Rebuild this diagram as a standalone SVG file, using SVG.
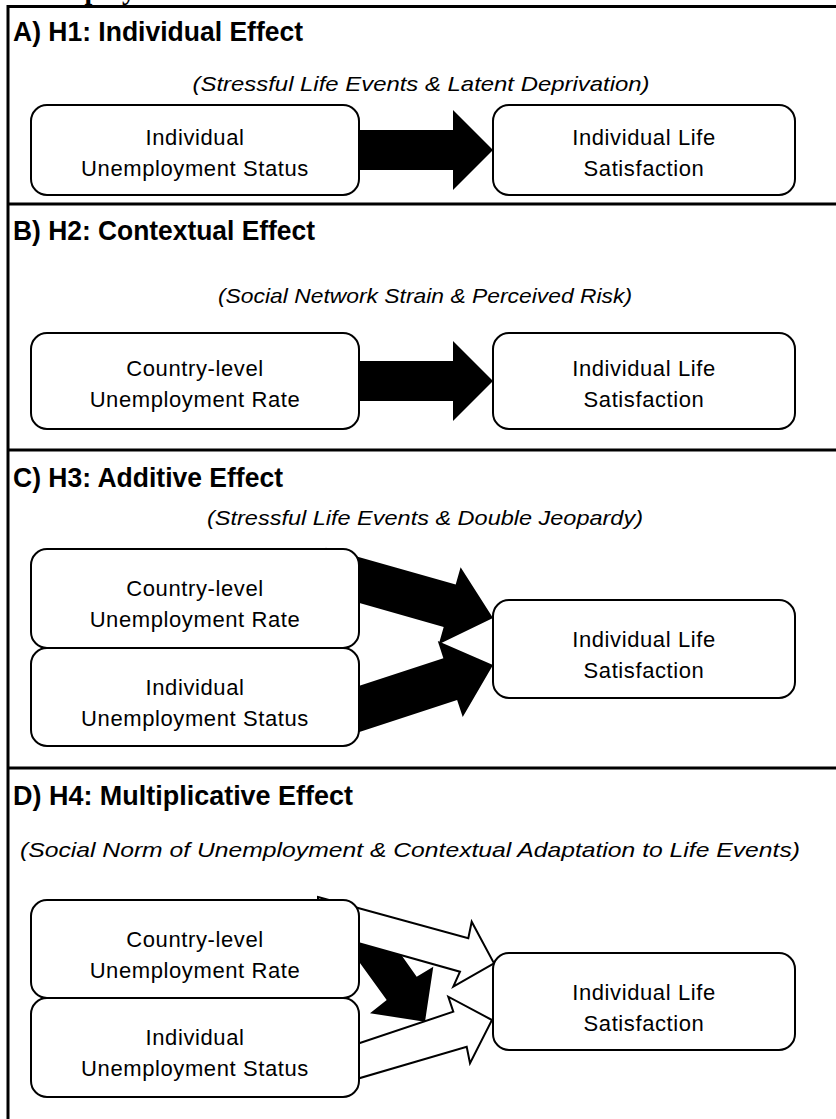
<svg xmlns="http://www.w3.org/2000/svg" width="836" height="1119" viewBox="0 0 836 1119">
<style>
.frame{stroke:#000;stroke-width:3;fill:none}
.box{fill:#fff;stroke:#000;stroke-width:2}
.head{font-family:"Liberation Sans",Arial,sans-serif;font-weight:bold;font-size:28px}
.sub{font-family:"Liberation Sans",Arial,sans-serif;font-style:italic;font-size:21px;text-anchor:middle}
.lbl{font-family:"Liberation Sans",Arial,sans-serif;font-size:22px;letter-spacing:0.6px;text-anchor:middle}
.blk{fill:#000}
.wht{fill:#fff;stroke:#000;stroke-width:2;stroke-linejoin:miter}
.cut{font-family:"Liberation Serif","Times New Roman",serif;font-weight:bold;font-size:28px}
</style>
<rect width="836" height="1119" fill="#fff"/>
<text class="cut" x="13" y="-1">Unemployment</text>
<g id="frame">
<path class="frame" d="M8,1119 V6.5 H836"/>
<path class="frame" d="M8,204 H836 M8,450 H836 M8,768 H836"/>
</g>
<g id="headings">
<text class="head" x="13" y="41" textLength="290" lengthAdjust="spacingAndGlyphs">A)  H1: Individual Effect</text>
<text class="sub" x="421" y="91" textLength="457" lengthAdjust="spacingAndGlyphs">(Stressful Life Events &amp; Latent Deprivation)</text>
<text class="head" x="13" y="240" textLength="302" lengthAdjust="spacingAndGlyphs">B)  H2: Contextual Effect</text>
<text class="sub" x="425" y="303" textLength="414" lengthAdjust="spacingAndGlyphs">(Social Network Strain &amp; Perceived Risk)</text>
<text class="head" x="13" y="487" textLength="270" lengthAdjust="spacingAndGlyphs">C)  H3: Additive Effect</text>
<text class="sub" x="425" y="525" textLength="436" lengthAdjust="spacingAndGlyphs">(Stressful Life Events &amp; Double Jeopardy)</text>
<text class="head" x="13" y="805" textLength="340" lengthAdjust="spacingAndGlyphs">D)  H4: Multiplicative Effect</text>
<text class="sub" x="410" y="857" textLength="780" lengthAdjust="spacingAndGlyphs">(Social Norm of Unemployment &amp; Contextual Adaptation to Life Events)</text>
</g>
<g id="connectors">
<polygon class="blk" points="350,130 453,130 453,110 493,150 453,190 453,170 350,170"/>
<polygon class="blk" points="350,361 453,361 453,341 493,381 453,421 453,401 350,401"/>
<polygon class="blk" transform="translate(493,618) rotate(15.83)" points="-180,-22 -45,-22 -45,-40 0,0 -45,40 -45,22 -180,22"/>
<polygon class="blk" transform="translate(493,665) rotate(-18.18)" points="-180,-22 -45,-22 -45,-40 0,0 -45,40 -45,22 -180,22"/>
<polygon class="blk" points="350,940.8 401,954.6 416.7,976.7 433.3,966.7 425,1021.7 370,1013.3 386.7,1000 350,949.3"/>
<polygon class="wht" points="318,897 468.3,938.3 471.7,921.7 494,963.3 453.3,986.7 460,971.7 318,931.8"/>
<polygon class="wht" points="330,1053 453.3,1011.7 448.3,996.7 492,1020 470,1063.3 466.7,1046.7 330,1086.8"/>
</g>
<g id="a-left"><rect class="box" x="31" y="105" width="328" height="90" rx="16"/>
<text class="lbl" x="195" y="145">Individual</text><text class="lbl" x="195" y="176">Unemployment  Status</text></g>
<g id="a-right"><rect class="box" x="493" y="105" width="302" height="90" rx="16"/>
<text class="lbl" x="644" y="145">Individual Life</text><text class="lbl" x="644" y="176">Satisfaction</text></g>
<g id="b-left"><rect class="box" x="31" y="333" width="328" height="96" rx="16"/>
<text class="lbl" x="195" y="376">Country-level</text><text class="lbl" x="195" y="407">Unemployment Rate</text></g>
<g id="b-right"><rect class="box" x="493" y="333" width="302" height="96" rx="16"/>
<text class="lbl" x="644" y="376">Individual Life</text><text class="lbl" x="644" y="407">Satisfaction</text></g>
<g id="c-country"><rect class="box" x="31" y="549" width="328" height="99" rx="16"/>
<text class="lbl" x="195" y="596">Country-level</text><text class="lbl" x="195" y="627">Unemployment Rate</text></g>
<g id="c-individual"><rect class="box" x="31" y="648" width="328" height="98" rx="16"/>
<text class="lbl" x="195" y="695">Individual</text><text class="lbl" x="195" y="726">Unemployment  Status</text></g>
<g id="c-right"><rect class="box" x="493" y="600" width="302" height="98" rx="16"/>
<text class="lbl" x="644" y="647">Individual Life</text><text class="lbl" x="644" y="678">Satisfaction</text></g>
<g id="d-country"><rect class="box" x="31" y="900" width="328" height="98" rx="16"/>
<text class="lbl" x="195" y="947">Country-level</text><text class="lbl" x="195" y="978">Unemployment Rate</text></g>
<g id="d-individual"><rect class="box" x="31" y="998" width="328" height="99" rx="16"/>
<text class="lbl" x="195" y="1045">Individual</text><text class="lbl" x="195" y="1076">Unemployment  Status</text></g>
<g id="d-right"><rect class="box" x="493" y="953" width="302" height="97" rx="16"/>
<text class="lbl" x="644" y="1000">Individual Life</text><text class="lbl" x="644" y="1031">Satisfaction</text></g>
</svg>
